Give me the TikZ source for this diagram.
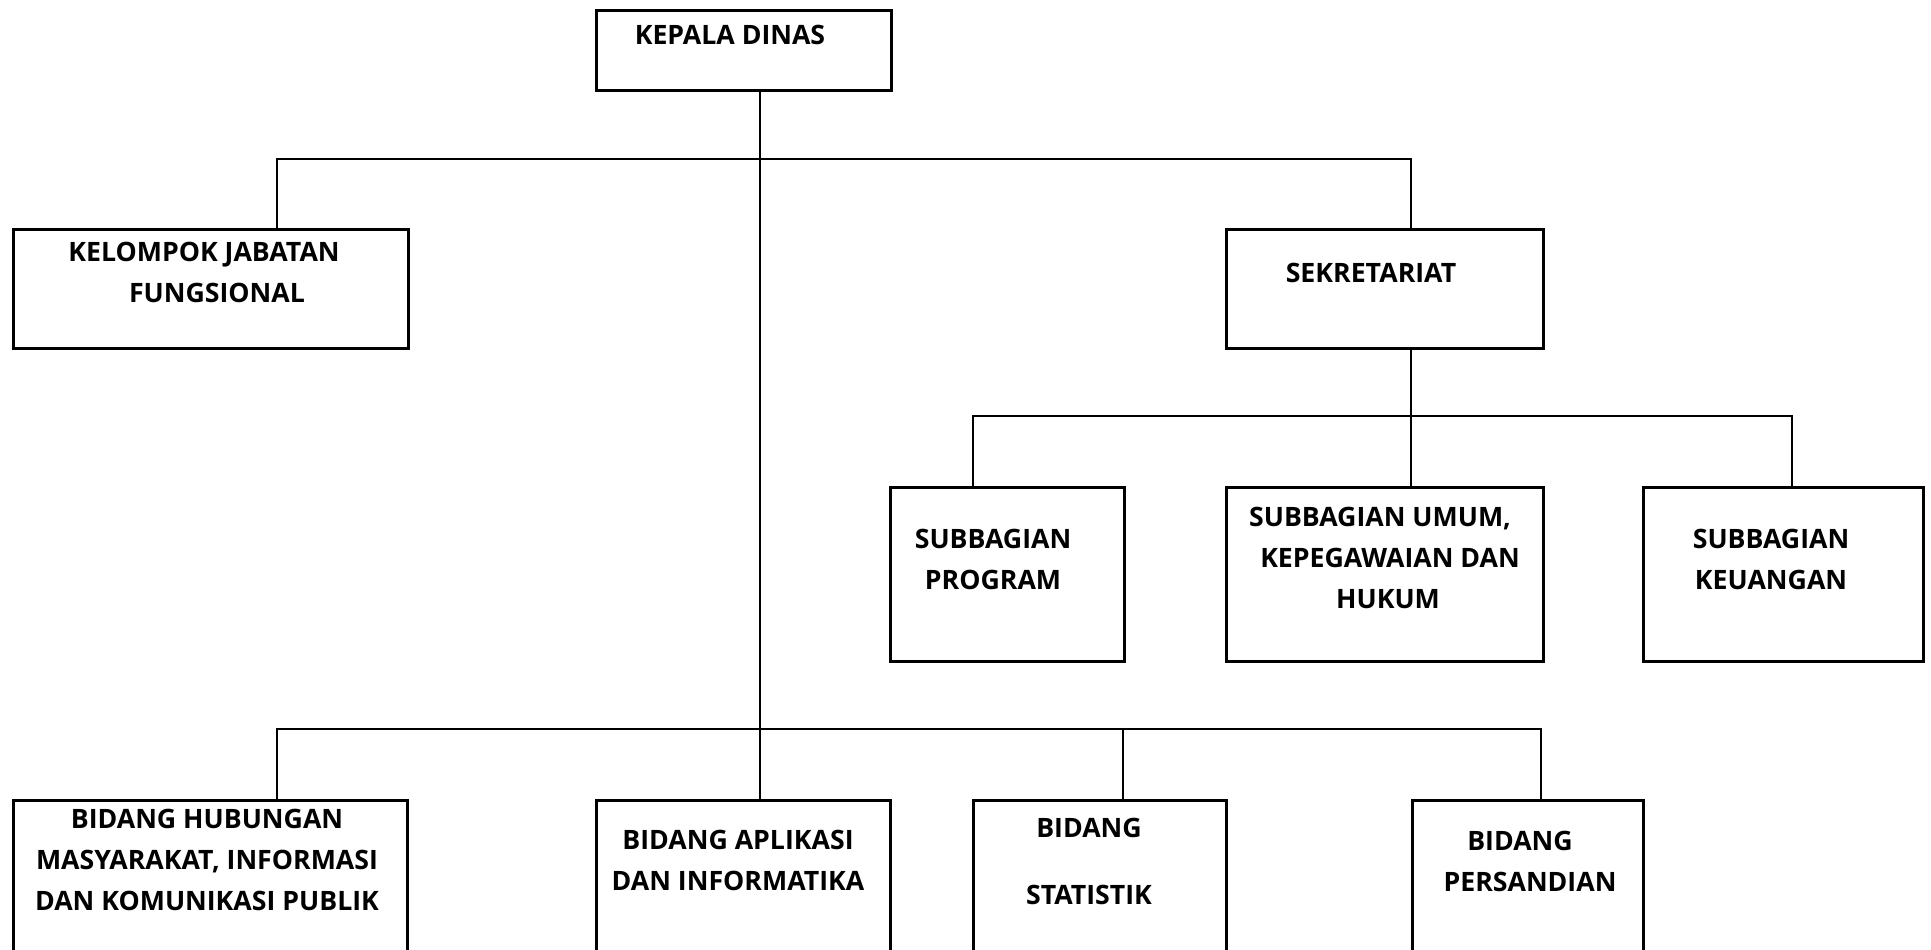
\documentclass[tikz,border=0pt]{standalone}
\usepackage{fontspec}
\setmainfont{Open Sans}
\usepackage{tikz}
\usetikzlibrary{calc, positioning}

\begin{document}
\begin{tikzpicture}[x=1pt, y=-1pt,
    kotak/.style={draw, line width=3pt, rectangle, inner sep=0pt, anchor=north west},
    teks/.style={align=center, inner sep=0pt, font=\bfseries\fontsize{26.7}{41}\selectfont},
    garis/.style={line width=1.8pt}]
    \useasboundingbox (0,0) rectangle (1931,950);
    \clip (0,0) rectangle (1931,950);

    % Kotak jabatan
    \node[kotak, minimum width=295, minimum height=80] (kepala) at (595,9) {};
    \node[kotak, minimum width=395, minimum height=119] (kelompok) at (12,228) {};
    \node[kotak, minimum width=317, minimum height=119] (sekretariat) at (1225,228) {};
    \node[kotak, minimum width=234, minimum height=174] (program) at (889,486) {};
    \node[kotak, minimum width=317, minimum height=174] (umum) at (1225,486) {};
    \node[kotak, minimum width=280, minimum height=174] (keuangan) at (1642,486) {};
    \node[kotak, minimum width=394, minimum height=200] (humas) at (12,799) {};
    \node[kotak, minimum width=294, minimum height=200] (aplikasi) at (595,799) {};
    \node[kotak, minimum width=253, minimum height=200] (statistik) at (972,799) {};
    \node[kotak, minimum width=231, minimum height=200] (persandian) at (1411,799) {};

    % Teks
    \node[teks] (kepala-t) at (730,35) {KEPALA DINAS};
    \node[teks] (kelompok-t) at (204,272) {KELOMPOK JABATAN\\\hspace*{26pt}FUNGSIONAL};
    \node[teks] (sekretariat-t) at (1371,273) {SEKRETARIAT};
    \node[teks] (program-t) at (993,559) {SUBBAGIAN\\PROGRAM};
    \node[teks] (umum-t) at (1380,558) {SUBBAGIAN UMUM,\\\hspace*{20pt}KEPEGAWAIAN DAN\\\hspace*{16pt}HUKUM};
    \node[teks] (keuangan-t) at (1771,559) {SUBBAGIAN\\KEUANGAN};
    \node[teks] (humas-t) at (207,860) {BIDANG HUBUNGAN\\MASYARAKAT, INFORMASI\\DAN KOMUNIKASI PUBLIK};
    \node[teks] (aplikasi-t) at (738,860) {BIDANG APLIKASI\\DAN INFORMATIKA};
    \node[teks] (statistik-t) at (1089,861) {BIDANG\\[26pt]STATISTIK};
    \node[teks] (persandian-t) at (1520,861) {BIDANG\\\hspace*{20pt}PERSANDIAN};

    % Titik cabang
    \coordinate (k1) at (760,159);
    \coordinate (a1) at (277,159);
    \coordinate (a2) at (1411,159);
    \coordinate (s1) at (1411,416);
    \coordinate (s2) at (973,416);
    \coordinate (s3) at (1792,416);
    \coordinate (b1) at (277,729);
    \coordinate (b2) at (760,729);
    \coordinate (b3) at (1123,729);
    \coordinate (b4) at (1541,729);

    % Garis hubungan
    \draw[garis] (kepala.south -| k1) -- (b2);
    \draw[garis] (a1 |- kelompok.north) -- (a1) -- (a2) -- (a2 |- sekretariat.north);
    \draw[garis] (s1 |- sekretariat.south) -- (s1);
    \draw[garis] (s2 |- program.north) -- (s2) -- (s3) -- (s3 |- keuangan.north);
    \draw[garis] (s1) -- (s1 |- umum.north);
    \draw[garis] (b1 |- humas.north) -- (b1) -- (b4) -- (b4 |- persandian.north);
    \draw[garis] (b2) -- (b2 |- aplikasi.north);
    \draw[garis] (b3) -- (b3 |- statistik.north);
\end{tikzpicture}
\end{document}
